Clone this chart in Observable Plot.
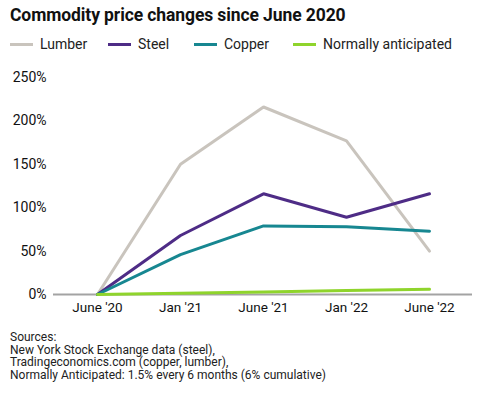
<!DOCTYPE html>
<html>
<head>
<meta charset="utf-8">
<script src="https://cdn.jsdelivr.net/npm/d3@7"></script>
<script src="https://cdn.jsdelivr.net/npm/@observablehq/plot@0.6"></script>
<style>
  body { margin: 0; background: #fff; font-family: Roboto, "Noto Sans", sans-serif; color: #111; width: 481px; height: 395px; overflow: hidden; }
  #title { position: absolute; left: 10px; top: 5px; font-size: 17.5px; font-weight: 700; letter-spacing: -0.1px; }
  #legend { position: absolute; left: 10px; top: 36px; font-size: 14px; display: flex; align-items: center; color: #222; }
  .item { display: flex; align-items: center; }
  .sw { width: 23px; height: 3px; margin-right: 7px; }
  #chart { position: absolute; left: 0; top: 62px; }
  #caption { position: absolute; left: 10px; top: 331px; font-size: 12px; line-height: 12.5px; color: #222; }
</style>
</head>
<body>
<div id="title">Commodity price changes since June 2020</div>
<div id="legend"></div>
<div id="chart"></div>
<div id="caption">Sources:<br>New York Stock Exchange data (steel),<br>Tradingeconomics.com (copper, lumber),<br>Normally Anticipated: 1.5% every 6 months (6% cumulative)</div>
<script>
const periods = ["June '20", "Jan '21", "June '21", "Jan '22", "June '22"];
const seriesNames = ["Lumber", "Steel", "Copper", "Normally anticipated"];
const seriesColors = ["#c9c4bd", "#4e2c86", "#178791", "#8fd42c"];
const lumber = [0, 150, 216, 177, 50];
const steel = [0, 68, 116, 89, 116];
const copper = [0, 46, 79, 78, 73];
const normal = [0, 1.5, 3, 4.5, 6];
const yTicks = [0, 50, 100, 150, 200, 250];

const seriesValues = [lumber, steel, copper, normal];
const data = [];
seriesNames.forEach((name, si) => {
  seriesValues[si].forEach((v, i) => data.push({series: name, period: periods[i], value: v}));
});

// legend
const legend = document.getElementById("legend");
seriesNames.forEach((n, i) => {
  const it = document.createElement("div");
  it.className = "item";
  it.style.width = i < 3 ? ([98, 86, 99][i]) + "px" : "auto";
  const sw = document.createElement("div");
  sw.className = "sw";
  sw.style.background = seriesColors[i];
  it.appendChild(sw);
  const t = document.createElement("span");
  t.textContent = n;
  it.appendChild(t);
  legend.appendChild(it);
});

const chart = Plot.plot({
  width: 481,
  height: 262,
  marginLeft: 53,
  marginRight: 9,
  marginTop: 15,
  marginBottom: 30,
  style: {fontFamily: "Roboto, 'Noto Sans', sans-serif", fontSize: "13px", color: "#111", background: "#fff"},
  x: {type: "point", domain: periods, padding: 0.52, label: null},
  y: {domain: [0, 250], label: null},
  color: {domain: seriesNames, range: seriesColors},
  marks: [
    Plot.ruleY([0], {stroke: "#a3a3a3", strokeWidth: 2}),
    Plot.axisY({ticks: yTicks, tickSize: 0, tickPadding: 7, tickFormat: d => d + "%", fontSize: 14}),
    Plot.axisX({tickSize: 0, tickPadding: 8, fontSize: 13.5}),
    Plot.line(data, {x: "period", y: "value", z: "series", stroke: "series", strokeWidth: 3, strokeLinejoin: "miter"})
  ]
});
document.getElementById("chart").appendChild(chart);
</script>
</body>
</html>
